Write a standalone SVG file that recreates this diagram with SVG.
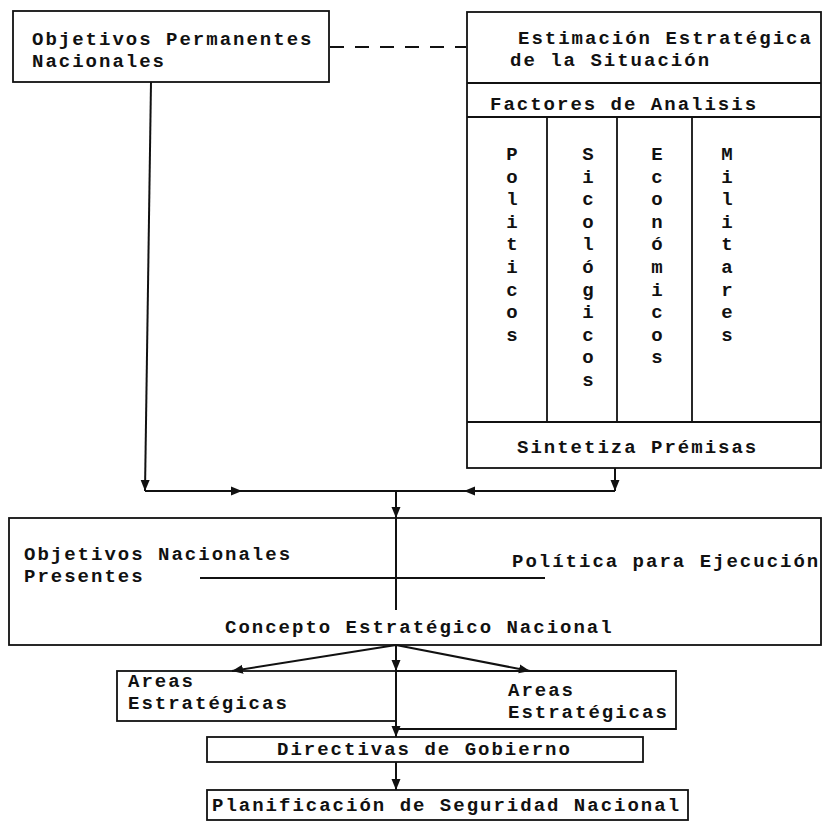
<svg xmlns="http://www.w3.org/2000/svg" width="823" height="830" viewBox="0 0 823 830">
<style>
.box{fill:none;stroke:#111;stroke-width:1.8}
.ln{fill:none;stroke:#111;stroke-width:2}
.t{font-family:"Liberation Mono","Courier New",monospace;font-size:19px;letter-spacing:2px;font-weight:bold;fill:#111}
.v{font-family:"Liberation Mono","Courier New",monospace;font-size:19px;font-weight:bold;fill:#111;text-anchor:middle}
</style>
<defs>
<marker id="ah" markerUnits="userSpaceOnUse" markerWidth="12" markerHeight="10" refX="11" refY="5" orient="auto">
<path d="M0,0.5 L11,5 L0,9.5 z" fill="#111"/>
</marker>
</defs>
<rect width="823" height="830" fill="#fff"/>

<g id="obj-permanentes">
<rect class="box" x="13" y="11" width="316" height="71"/>
<text class="t" x="32" y="45">Objetivos Permanentes</text>
<text class="t" x="32" y="67">Nacionales</text>
</g>

<g id="estimacion">
<rect class="box" x="467" y="12" width="354" height="456"/>
<line class="box" x1="467" y1="83" x2="821" y2="83"/>
<line class="box" x1="467" y1="117" x2="821" y2="117"/>
<line class="box" x1="467" y1="422" x2="821" y2="422"/>
<line class="box" x1="547" y1="117" x2="547" y2="422"/>
<line class="box" x1="617" y1="117" x2="617" y2="422"/>
<line class="box" x1="692" y1="117" x2="692" y2="422"/>
<text class="t" x="518" y="44">Estimación Estratégica</text>
<text class="t" x="510" y="66">de la Situación</text>
<text class="t" x="490" y="110">Factores de Analisis</text>
<text class="t" x="517" y="453">Sintetiza Prémisas</text>
</g>

<g id="politicos">
<text class="v" x="512" y="160">P</text><text class="v" x="512" y="182.6">o</text><text class="v" x="512" y="205.2">l</text><text class="v" x="512" y="227.8">i</text><text class="v" x="512" y="250.4">t</text><text class="v" x="512" y="273">i</text><text class="v" x="512" y="295.6">c</text><text class="v" x="512" y="318.2">o</text><text class="v" x="512" y="340.8">s</text>
</g>
<g id="sicologicos">
<text class="v" x="588" y="160">S</text><text class="v" x="588" y="182.6">i</text><text class="v" x="588" y="205.2">c</text><text class="v" x="588" y="227.8">o</text><text class="v" x="588" y="250.4">l</text><text class="v" x="588" y="273">ó</text><text class="v" x="588" y="295.6">g</text><text class="v" x="588" y="318.2">i</text><text class="v" x="588" y="340.8">c</text><text class="v" x="588" y="363.4">o</text><text class="v" x="588" y="386">s</text>
</g>
<g id="economicos">
<text class="v" x="657" y="160">E</text><text class="v" x="657" y="182.6">c</text><text class="v" x="657" y="205.2">o</text><text class="v" x="657" y="227.8">n</text><text class="v" x="657" y="250.4">ó</text><text class="v" x="657" y="273">m</text><text class="v" x="657" y="295.6">i</text><text class="v" x="657" y="318.2">c</text><text class="v" x="657" y="340.8">o</text><text class="v" x="657" y="363.4">s</text>
</g>
<g id="militares">
<text class="v" x="727" y="160">M</text><text class="v" x="727" y="182.6">i</text><text class="v" x="727" y="205.2">l</text><text class="v" x="727" y="227.8">i</text><text class="v" x="727" y="250.4">t</text><text class="v" x="727" y="273">a</text><text class="v" x="727" y="295.6">r</text><text class="v" x="727" y="318.2">e</text><text class="v" x="727" y="340.8">s</text>
</g>

<g id="objetivos-presentes">
<rect class="box" x="9" y="518" width="812" height="127"/>
<text class="t" x="24" y="560">Objetivos Nacionales</text>
<text class="t" x="24" y="582">Presentes</text>
<text class="t" x="512" y="567">Política para Ejecución</text>
<text class="t" x="225" y="633">Concepto Estratégico Nacional</text>
</g>

<g id="areas-1">
<rect class="box" x="117" y="671" width="279" height="50"/>
<text class="t" x="128" y="687">Areas</text>
<text class="t" x="128" y="709">Estratégicas</text>
</g>
<g id="areas-2">
<path class="box" d="M396,671 H676 V729 H396"/>
<text class="t" x="508" y="696">Areas</text>
<text class="t" x="508" y="718">Estratégicas</text>
</g>
<g id="directivas">
<rect class="box" x="207" y="737" width="436" height="25"/>
<text class="t" x="277" y="755">Directivas de Gobierno</text>
</g>
<g id="planificacion">
<rect class="box" x="207" y="790" width="481" height="30"/>
<text class="t" x="212" y="811">Planificación de Seguridad Nacional</text>
</g>

<g id="connectors">
<path class="ln" d="M330,47 H466" stroke-dasharray="14 11"/>
<path class="ln" d="M151,82 L145,491" marker-end="url(#ah)"/>
<path class="ln" d="M145,491 H615"/>
<path class="ln" d="M226,491 H242" marker-end="url(#ah)"/>
<path class="ln" d="M480,491 H464" marker-end="url(#ah)"/>
<path class="ln" d="M615,468 V491" marker-end="url(#ah)"/>
<path class="ln" d="M396,491 V518" marker-end="url(#ah)"/>
<path class="ln" d="M396,518 V610"/>
<path class="ln" d="M200,578 H545"/>
<path class="ln" d="M396,645 L232,671" marker-end="url(#ah)"/>
<path class="ln" d="M396,645 V671" marker-end="url(#ah)"/>
<path class="ln" d="M396,645 L530,671" marker-end="url(#ah)"/>
<path class="ln" d="M396,671 V737" marker-end="url(#ah)"/>
<path class="ln" d="M396,762 V790" marker-end="url(#ah)"/>
</g>
</svg>
